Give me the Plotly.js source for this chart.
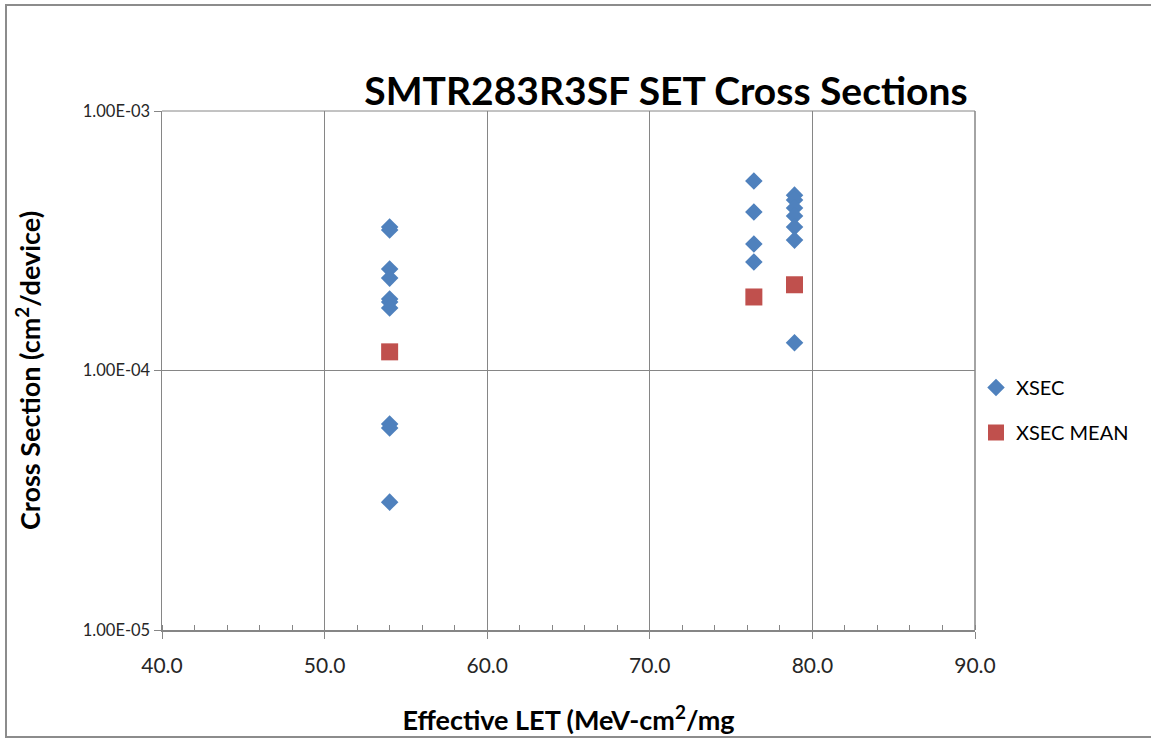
<!DOCTYPE html>
<html>
<head>
<meta charset="utf-8">
<script src="https://cdn.plot.ly/plotly-3.0.1.min.js"></script>
<style>
  html, body { margin: 0; padding: 0; background: #fff; }
  #chart { width: 1151px; height: 738px; }
</style>
</head>
<body>
<div id="chart"></div>
<script>
// Data
const xsecLET = [54.0, 54.0, 54.0, 54.0, 54.0, 54.0, 54.0, 54.0, 54.0, 54.0,
                 76.4, 76.4, 76.4, 76.4,
                 78.9, 78.9, 78.9, 78.9, 78.9, 78.9, 78.9];
const xsecValues = [3.57e-4, 3.48e-4, 2.46e-4, 2.27e-4, 1.886e-4, 1.836e-4, 1.741e-4, 6.22e-5, 6.00e-5, 3.11e-5,
                    5.37e-4, 4.08e-4, 3.07e-4, 2.62e-4,
                    4.74e-4, 4.54e-4, 4.23e-4, 3.94e-4, 3.57e-4, 3.18e-4, 1.28e-4];
const meanLET = [54.0, 76.4, 78.9];
const meanValues = [1.18e-4, 1.92e-4, 2.14e-4];
const yTickVals = [1e-5, 1e-4, 1e-3];
const yTickText = ['1.00E-05', '1.00E-04', '1.00E-03'];

const FONT = 'Lato, "Open Sans", "Liberation Sans", Arial, sans-serif';

const traces = [
  {
    x: xsecLET, y: xsecValues, type: 'scatter', mode: 'markers', name: 'XSEC',
    legendgroup: 'a',
    marker: { symbol: 'diamond', size: 13.5, color: '#4F81BD' }
  },
  {
    x: meanLET, y: meanValues, type: 'scatter', mode: 'markers', name: 'XSEC MEAN',
    legendgroup: 'b',
    marker: { symbol: 'square', size: 17, color: '#C0504D' }
  }
];

const L = 162, R = 975, T = 111, B = 630;
const pw = R - L, ph = B - T;
const px = v => (v - L) / pw;
const py = v => (B - v) / ph;

const layout = {
  width: 1151, height: 738,
  margin: { l: L, r: 1151 - R, t: T, b: 738 - B },
  paper_bgcolor: '#ffffff',
  plot_bgcolor: '#ffffff',
  font: { family: FONT, color: '#262626', size: 16 },
  title: {
    text: '<b>SMTR283R3SF SET Cross Sections</b>',
    font: { family: FONT, size: 39, color: '#000000' },
    xref: 'container', yref: 'container',
    x: 666 / 1151, xanchor: 'center',
    y: 1 - 91 / 738, yanchor: 'middle'
  },
  xaxis: {
    range: [40, 90],
    tick0: 40, dtick: 10,
    tickformat: '.1f',
    showgrid: true, gridcolor: '#868686', gridwidth: 1,
    showline: true, linecolor: '#868686', linewidth: 1.5,
    ticks: 'outside', ticklen: 7, tickcolor: '#868686',
    ticklabelstandoff: 9,
    minor: { dtick: 2, ticks: 'inside', ticklen: 5, tickcolor: '#868686', showgrid: false },
    tickfont: { family: FONT, size: 21, color: '#262626' },
    zeroline: false,
    title: {
      text: '<b>Effective LET (MeV-cm<sup>2</sup>/mg</b>',
      font: { family: FONT, size: 27, color: '#000000' },
      standoff: 35
    }
  },
  yaxis: {
    type: 'log',
    range: [-5, -3],
    tickvals: yTickVals,
    ticktext: yTickText,
    showgrid: true, gridcolor: '#868686', gridwidth: 1,
    showline: true, linecolor: '#868686', linewidth: 1.5,
    ticks: 'outside', ticklen: 7, tickcolor: '#868686',
    tickfont: { family: FONT, size: 16.5, color: '#262626' },
    zeroline: false,
    title: {
      text: '<b>Cross Section (cm<sup>2</sup>/device)</b>',
      font: { family: FONT, size: 27, color: '#000000' },
      standoff: 34
    }
  },
  showlegend: true,
  legend: {
    x: px(976), xanchor: 'left',
    y: py(368), yanchor: 'top',
    font: { family: FONT, size: 20, color: '#000000' },
    tracegroupgap: 16,
    itemwidth: 30,
    bgcolor: 'rgba(0,0,0,0)'
  },
  shapes: [
    {
      type: 'rect', xref: 'paper', yref: 'paper',
      x0: px(6), x1: px(1160), y0: py(737), y1: py(5),
      line: { color: '#8c8c8c', width: 2 }, fillcolor: 'rgba(0,0,0,0)'
    },
    {
      type: 'line', xref: 'paper', yref: 'paper',
      x0: 1, x1: 1, y0: 0, y1: 1,
      line: { color: '#868686', width: 1.5 }
    },
    {
      type: 'line', xref: 'paper', yref: 'paper',
      x0: 0, x1: 1, y0: 1, y1: 1,
      line: { color: '#868686', width: 1 }
    }
  ]
};

Plotly.newPlot('chart', traces, layout, { displayModeBar: false, staticPlot: true });
</script>
</body>
</html>
